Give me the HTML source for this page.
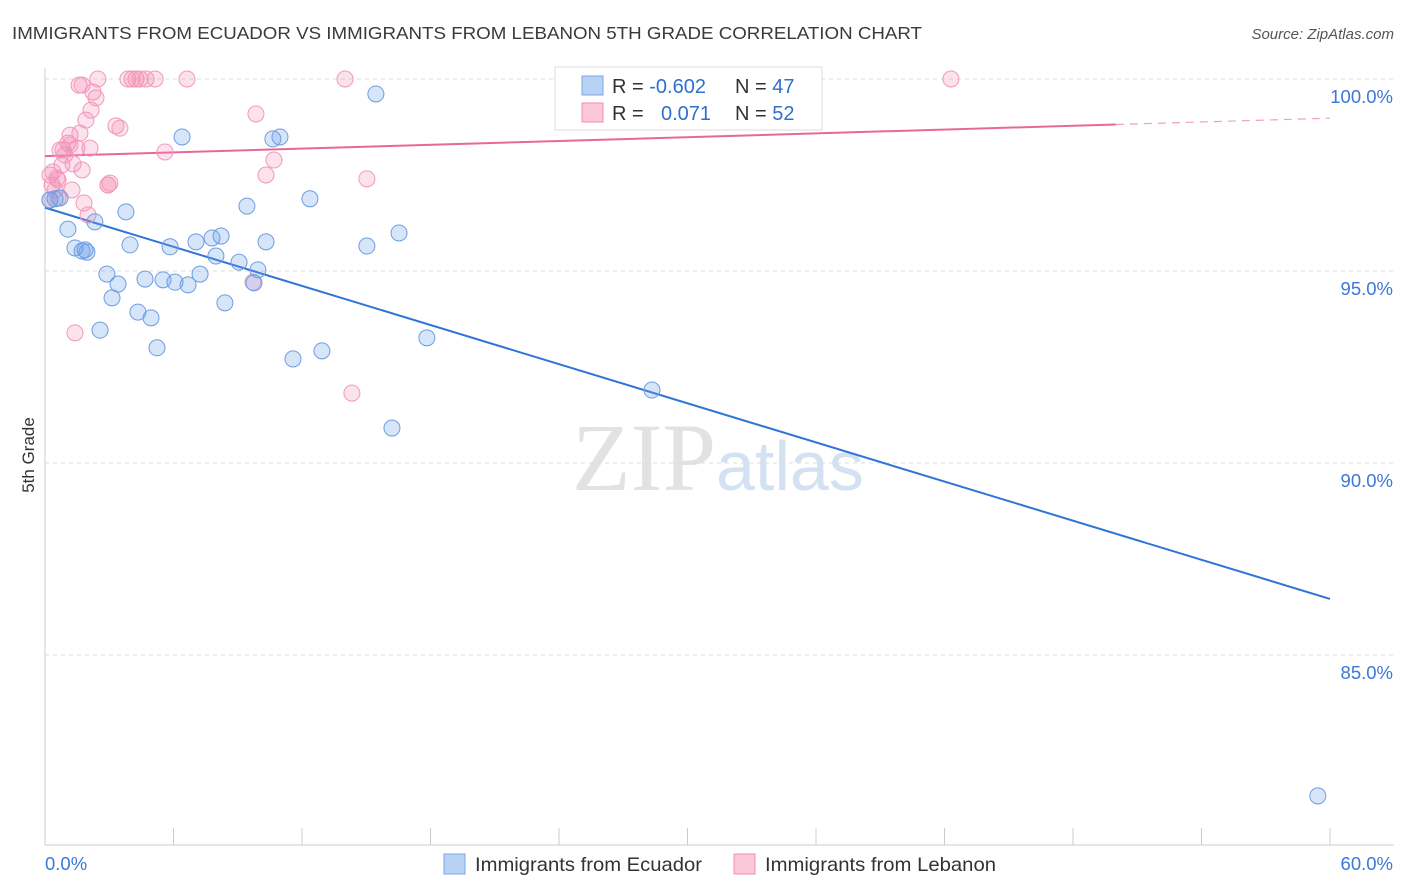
<!DOCTYPE html>
<html><head><meta charset="utf-8"><style>
body{margin:0;background:#fff;font-family:"Liberation Sans",sans-serif;}
</style></head><body>
<svg id="c" width="1406" height="892" xmlns="http://www.w3.org/2000/svg" style="display:block">
<text x="12" y="39" font-size="17.5" fill="#3a3a3a" textLength="910" lengthAdjust="spacingAndGlyphs" font-family="Liberation Sans,sans-serif">IMMIGRANTS FROM ECUADOR VS IMMIGRANTS FROM LEBANON 5TH GRADE CORRELATION CHART</text>
<text x="1394" y="39" font-size="15" fill="#555" text-anchor="end" font-style="italic">Source: ZipAtlas.com</text>
<text transform="translate(34,455) rotate(-90)" font-size="17" fill="#333" text-anchor="middle">5th Grade</text>
<text x="716" y="490" font-size="96" text-anchor="end" fill="#e2e2e2" font-family="Liberation Serif,serif">ZIP</text>
<text x="716" y="490" font-size="70" fill="#d4e1f3">atlas</text>
<g id="grid"></g><g id="axes"></g><g id="lines"></g><g id="pts"></g>
<g>
<rect x="555" y="67" width="267" height="63" fill="#fff" stroke="#ddd"/>
<rect x="582" y="76" width="21" height="19" fill="#b8d2f4" stroke="#7aa7e4"/>
<rect x="582" y="103" width="21" height="19" fill="#fcc8d8" stroke="#f08cb0"/>
<text x="612" y="93" font-size="20" fill="#333">R = <tspan fill="#2f6fd0">-0.602</tspan></text>
<text x="735" y="93" font-size="20" fill="#333">N = <tspan fill="#2f6fd0">47</tspan></text>
<text x="612" y="120" font-size="20" fill="#333">R = <tspan fill="#2f6fd0" x="661">0.071</tspan></text>
<text x="735" y="120" font-size="20" fill="#333">N = <tspan fill="#2f6fd0">52</tspan></text>
</g>
<g>
<rect x="444" y="854" width="21" height="20" fill="#b8d2f4" stroke="#7aa7e4"/>
<text x="475" y="871" font-size="19.5" fill="#333" textLength="227" lengthAdjust="spacingAndGlyphs">Immigrants from Ecuador</text>
<rect x="734" y="854" width="21" height="20" fill="#fcc8d8" stroke="#f08cb0"/>
<text x="765" y="871" font-size="19.5" fill="#333" textLength="231" lengthAdjust="spacingAndGlyphs">Immigrants from Lebanon</text>
</g>
</svg>
<script>
const yTicks=[100,95,90,85];
const yTickLabels=["100.0%","95.0%","90.0%","85.0%"];
const xTicks=[0,6,12,18,24,30,36,42,48,54,60];
const xEndLabels=["0.0%","60.0%"];
const ecuadorX=[0.47,0.70,1.07,1.40,1.73,1.96,2.33,2.57,2.89,3.13,3.41,3.78,3.97,4.34,4.67,4.95,5.23,5.51,5.84,6.07,6.40,6.68,7.05,7.24,7.80,7.98,8.22,8.40,9.06,9.43,9.76,9.94,10.32,10.64,10.97,11.58,12.37,12.93,15.03,15.45,16.20,16.53,17.83,28.34,59.43,0.23,1.87];
const ecuadorY=[96.88,96.90,96.09,95.60,95.52,95.49,96.28,93.46,94.92,94.30,94.66,96.54,95.68,93.93,94.79,93.78,93.00,94.77,95.63,94.71,98.49,94.64,95.76,94.92,95.86,95.39,95.91,94.17,95.23,96.69,94.69,95.03,95.76,98.44,98.49,92.71,96.88,92.92,95.65,99.61,90.91,95.99,93.26,91.90,81.33,96.85,95.55];
const lebanonX=[0.23,0.33,0.47,0.56,0.61,0.70,0.79,0.93,1.07,1.17,1.26,1.31,1.40,1.49,1.59,1.63,1.73,1.82,1.91,2.01,2.10,2.15,2.24,2.47,2.94,3.03,3.31,3.50,3.87,4.06,4.25,4.44,4.72,5.14,5.60,6.63,9.71,9.85,10.32,10.69,14.01,14.33,15.03,42.30,0.23,0.37,0.61,0.84,1.17,1.73,2.38,2.94];
const lebanonY=[97.50,97.24,97.11,97.42,96.90,98.15,97.76,98.02,98.33,98.54,97.11,97.79,93.39,98.20,99.84,98.59,97.63,96.77,98.93,96.46,98.20,99.19,99.66,100,97.24,97.29,98.78,98.72,100,100,100,100,100,100,98.10,100,94.71,99.09,97.50,97.89,100,91.82,97.40,100,96.85,97.58,97.37,98.15,98.28,99.84,99.51,97.24];
const ecuadorTrend=[96.65,86.46];
const lebanonTrend=[97.99,98.98];
const NS="http://www.w3.org/2000/svg";
const X=v=>45+v*(1285/60);
const Y=v=>79+(100-v)*38.4;
function mk(tag,attrs,parent){const e=document.createElementNS(NS,tag);for(const k in attrs)e.setAttribute(k,attrs[k]);parent.appendChild(e);return e;}
const grid=document.getElementById('grid'),axes=document.getElementById('axes'),lines=document.getElementById('lines'),pts=document.getElementById('pts');
yTicks.forEach((t,i)=>{
 const l=mk('line',{x1:45,x2:1394,y1:Y(t),y2:Y(t),stroke:'#ddd','stroke-dasharray':'4,4'},grid);
 
 
 const tx=mk('text',{x:1393,y:Y(t)+24,'font-size':18.5,fill:'#3b78d8','text-anchor':'end'},axes);
 tx.textContent=yTickLabels[i];
 
 
});
const ax=mk('line',{x1:45,x2:1394,y1:845,y2:845,stroke:'#ccc'},axes);


const ay=mk('line',{x1:45,x2:45,y1:68,y2:845,stroke:'#ccc'},axes);


xTicks.forEach(t=>{
 const l=mk('line',{x1:X(t),x2:X(t),y1:828,y2:845,stroke:'#ccc'},axes);
 
 
});
const xl0=mk('text',{x:45,y:870,'font-size':18.5,fill:'#3b78d8'},axes);xl0.textContent=xEndLabels[0];


const xl1=mk('text',{x:1393,y:870,'font-size':18.5,fill:'#3b78d8','text-anchor':'end'},axes);xl1.textContent=xEndLabels[1];


function dots(xs,ys,fill,stroke,name){xs.forEach((x,i)=>{const c=mk('circle',{cx:X(x),cy:Y(ys[i]),r:8,fill:fill,stroke:stroke,'stroke-width':1},pts);
 
 });}
dots(lebanonX,lebanonY,'rgba(245,140,180,0.25)','#f199b9','lebanon-point');
dots(ecuadorX,ecuadorY,'rgba(110,160,235,0.28)','#6c9de2','ecuador-point');
const bt=mk('line',{x1:X(0),y1:Y(ecuadorTrend[0]),x2:X(60),y2:Y(ecuadorTrend[1]),stroke:'#2f74d8','stroke-width':2},lines);


const py=x=>lebanonTrend[0]+(lebanonTrend[1]-lebanonTrend[0])*x/60;
const pt=mk('line',{x1:X(0),y1:Y(py(0)),x2:X(50),y2:Y(py(50)),stroke:'#e8679a','stroke-width':2},lines);


const pd=mk('line',{x1:X(50),y1:Y(py(50)),x2:X(60),y2:Y(py(60)),stroke:'#f0a0bf','stroke-width':1.2,'stroke-dasharray':'8,6'},lines);


</script>
</body></html>
